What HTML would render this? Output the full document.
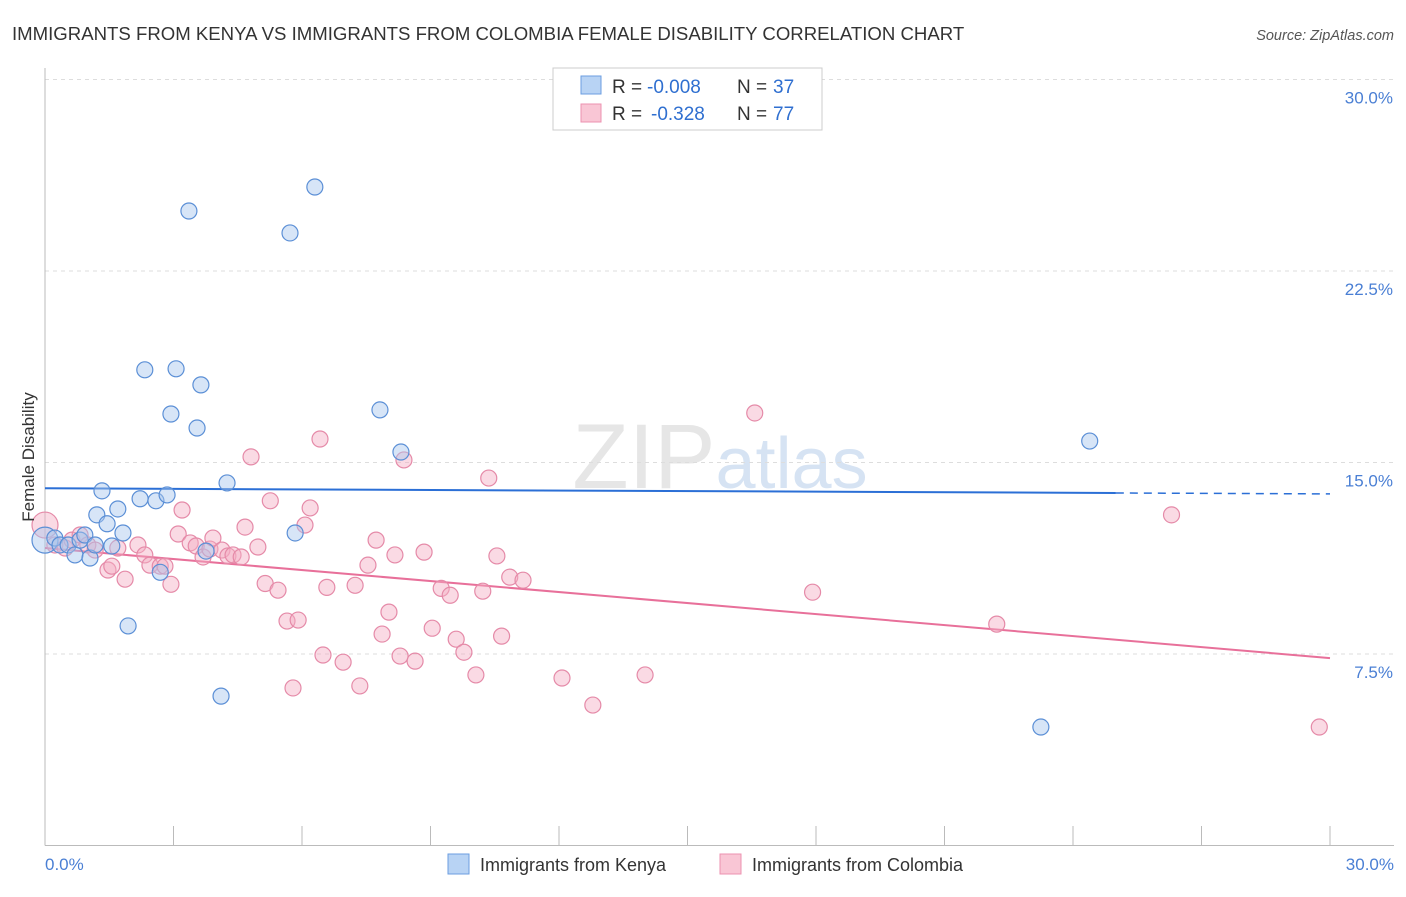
<!DOCTYPE html>
<html><head><meta charset="utf-8">
<style>
body{margin:0;background:#fff;font-family:"Liberation Sans",sans-serif;}
svg text{font-family:"Liberation Sans",sans-serif;}
</style></head><body>
<svg id="chart" width="1406" height="892" xmlns="http://www.w3.org/2000/svg">
<text x="12" y="40" font-size="18.6" fill="#333">IMMIGRANTS FROM KENYA VS IMMIGRANTS FROM COLOMBIA FEMALE DISABILITY CORRELATION CHART</text>
<text x="1394" y="40" font-size="14.5" fill="#555" text-anchor="end" font-style="italic">Source: ZipAtlas.com</text>
<text x="720" y="488" font-size="92" fill="#e6e6e6" text-anchor="middle" font-family="Liberation Serif"><tspan>ZIP</tspan><tspan fill="#d6e3f3" font-family="Liberation Sans" font-size="72">atlas</tspan></text>
<g id="grid"></g><g id="axes"></g><g id="lines"></g><g id="points"></g>
<text transform="translate(34,457) rotate(-90)" font-size="17" fill="#333" text-anchor="middle">Female Disability</text>
<g>
<rect x="553" y="68" width="269" height="62" fill="#fff" stroke="#ccc"/>
<rect x="581" y="76" width="20" height="18" fill="#b8d3f4" stroke="#6b9ee0"/>
<rect x="581" y="104" width="20" height="18" fill="#f9c6d5" stroke="#ec92b0"/>
<text x="612" y="93" font-size="19" fill="#333">R =</text>
<text x="647" y="93" font-size="19" fill="#2f6fd0">-0.008</text>
<text x="737" y="93" font-size="19" fill="#333">N =</text>
<text x="773" y="93" font-size="19" fill="#2f6fd0">37</text>
<text x="612" y="120" font-size="19" fill="#333">R =</text>
<text x="651" y="120" font-size="19" fill="#2f6fd0">-0.328</text>
<text x="737" y="120" font-size="19" fill="#333">N =</text>
<text x="773" y="120" font-size="19" fill="#2f6fd0">77</text>
</g>
<g>
<rect x="448" y="854" width="21" height="20" fill="#b8d3f4" stroke="#6b9ee0"/>
<text x="480" y="871" font-size="18" fill="#333">Immigrants from Kenya</text>
<rect x="720" y="854" width="21" height="20" fill="#f9c6d5" stroke="#ec92b0"/>
<text x="752" y="871" font-size="18" fill="#333">Immigrants from Colombia</text>
</g>
</svg>
<script>
const yTicks=[7.5,15.0,22.5,30.0];
const xTicks=[0,3,6,9,12,15,18,21,24,27,30];
const kenyaX=[0,0.23,0.35,0.54,0.7,0.82,0.93,1.05,1.17,1.21,1.33,1.45,1.56,1.7,1.82,1.94,2.22,2.33,2.59,2.69,2.85,2.94,3.06,3.36,3.55,3.64,3.76,4.11,4.25,5.72,5.84,6.3,7.82,8.31,23.25,24.39];
const kenyaY=[11.96,12.04,11.77,11.77,11.38,11.96,12.16,11.26,11.77,12.95,13.89,12.6,11.73,13.18,12.24,8.6,13.58,18.63,13.5,10.7,13.73,16.9,18.67,24.85,16.35,18.04,11.53,5.85,14.2,23.99,12.24,25.79,17.06,15.41,4.64,15.84];
const colX=[0,0.23,0.47,0.63,0.82,1.0,1.17,1.47,1.56,1.7,1.87,2.17,2.33,2.45,2.69,2.8,2.94,3.11,3.2,3.39,3.53,3.69,3.85,3.92,4.13,4.27,4.39,4.58,4.67,4.81,4.97,5.14,5.26,5.44,5.65,5.79,5.91,6.07,6.19,6.42,6.49,6.58,6.96,7.24,7.35,7.54,7.73,7.87,8.03,8.17,8.29,8.38,8.64,8.85,9.04,9.25,9.46,9.6,9.78,10.06,10.22,10.36,10.55,10.66,10.85,11.16,12.07,12.79,14.01,16.57,17.92,22.22,26.3,29.75];
const colY=[12.55,11.77,11.65,11.96,12.16,11.77,11.57,10.79,10.94,11.65,10.43,11.77,11.38,10.98,10.94,10.94,10.23,12.2,13.14,11.85,11.73,11.3,11.61,12.04,11.57,11.34,11.38,11.3,12.47,15.22,11.69,10.26,13.5,10.0,8.79,6.17,8.83,12.55,13.22,15.92,7.46,10.11,7.18,10.19,6.25,10.98,11.96,8.28,9.14,11.38,7.42,15.1,7.22,11.49,8.51,10.07,9.8,8.08,7.57,6.68,9.96,14.39,11.34,8.2,10.51,10.39,6.56,5.5,6.68,16.94,9.92,8.67,12.95,4.64];
const kenyaTrend=[13.99,13.77];
const colTrend=[11.65,7.34];
const NS="http://www.w3.org/2000/svg";
const X=v=>45+v/30*1285, Y=v=>845.5-v/7.5*191.5;
function mk(tag,attrs,parent){const e=document.createElementNS(NS,tag);for(const k in attrs)e.setAttribute(k,attrs[k]);document.getElementById(parent).appendChild(e);return e;}
yTicks.forEach(t=>{
 const l=mk('line',{x1:45,x2:1394,y1:Y(t),y2:Y(t),stroke:'#ddd','stroke-dasharray':'4,4'},'grid');
 
 
 const tx=mk('text',{x:1393,y:Y(t)+24,'font-size':17,fill:'#4a7fd4','text-anchor':'end'},'grid');
 tx.textContent=t.toFixed(1)+'%';
 
 
});
const ax=mk('line',{x1:45,x2:1394,y1:845.5,y2:845.5,stroke:'#bbb'},'axes');


const ay=mk('line',{x1:45,x2:45,y1:68,y2:845.5,stroke:'#bbb'},'axes');


xTicks.forEach(t=>{
 const l=mk('line',{x1:X(t),x2:X(t),y1:826,y2:845.5,stroke:'#bbb'},'axes');
 
 
});
[[0,'start',45],[30,'end',1394]].forEach(d=>{
 const tx=mk('text',{x:d[2],y:870,'font-size':17,fill:'#4a7fd4','text-anchor':d[1]},'axes');
 tx.textContent=d[0].toFixed(1)+'%';
 
 
});
function pts(xs,ys,fill,stroke,name){
 xs.forEach((x,i)=>{
  const c=mk('circle',{cx:X(x),cy:Y(ys[i]),r:(i==0?13:8),fill:fill,'fill-opacity':0.45,stroke:stroke,'stroke-width':1.2},'points');
  
  
 });
}
pts(colX,colY,'#f4aec4','#e58aa8','colombia-point');
pts(kenyaX,kenyaY,'#a7c6ee','#5b8fd6','kenya-point');
const kEnd=25;
const kAt=v=>kenyaTrend[0]+(kenyaTrend[1]-kenyaTrend[0])*v/30;
let l1=mk('line',{x1:X(0),y1:Y(kAt(0)),x2:X(kEnd),y2:Y(kAt(kEnd)),stroke:'#2b6fd6','stroke-width':2},'lines');


let l2=mk('line',{x1:X(kEnd),y1:Y(kAt(kEnd)),x2:X(30),y2:Y(kAt(30)),stroke:'#2b6fd6','stroke-width':1.5,'stroke-dasharray':'8,6'},'lines');


let l3=mk('line',{x1:X(0),y1:Y(colTrend[0]),x2:X(30),y2:Y(colTrend[1]),stroke:'#e8709a','stroke-width':2},'lines');


</script>
</body></html>
